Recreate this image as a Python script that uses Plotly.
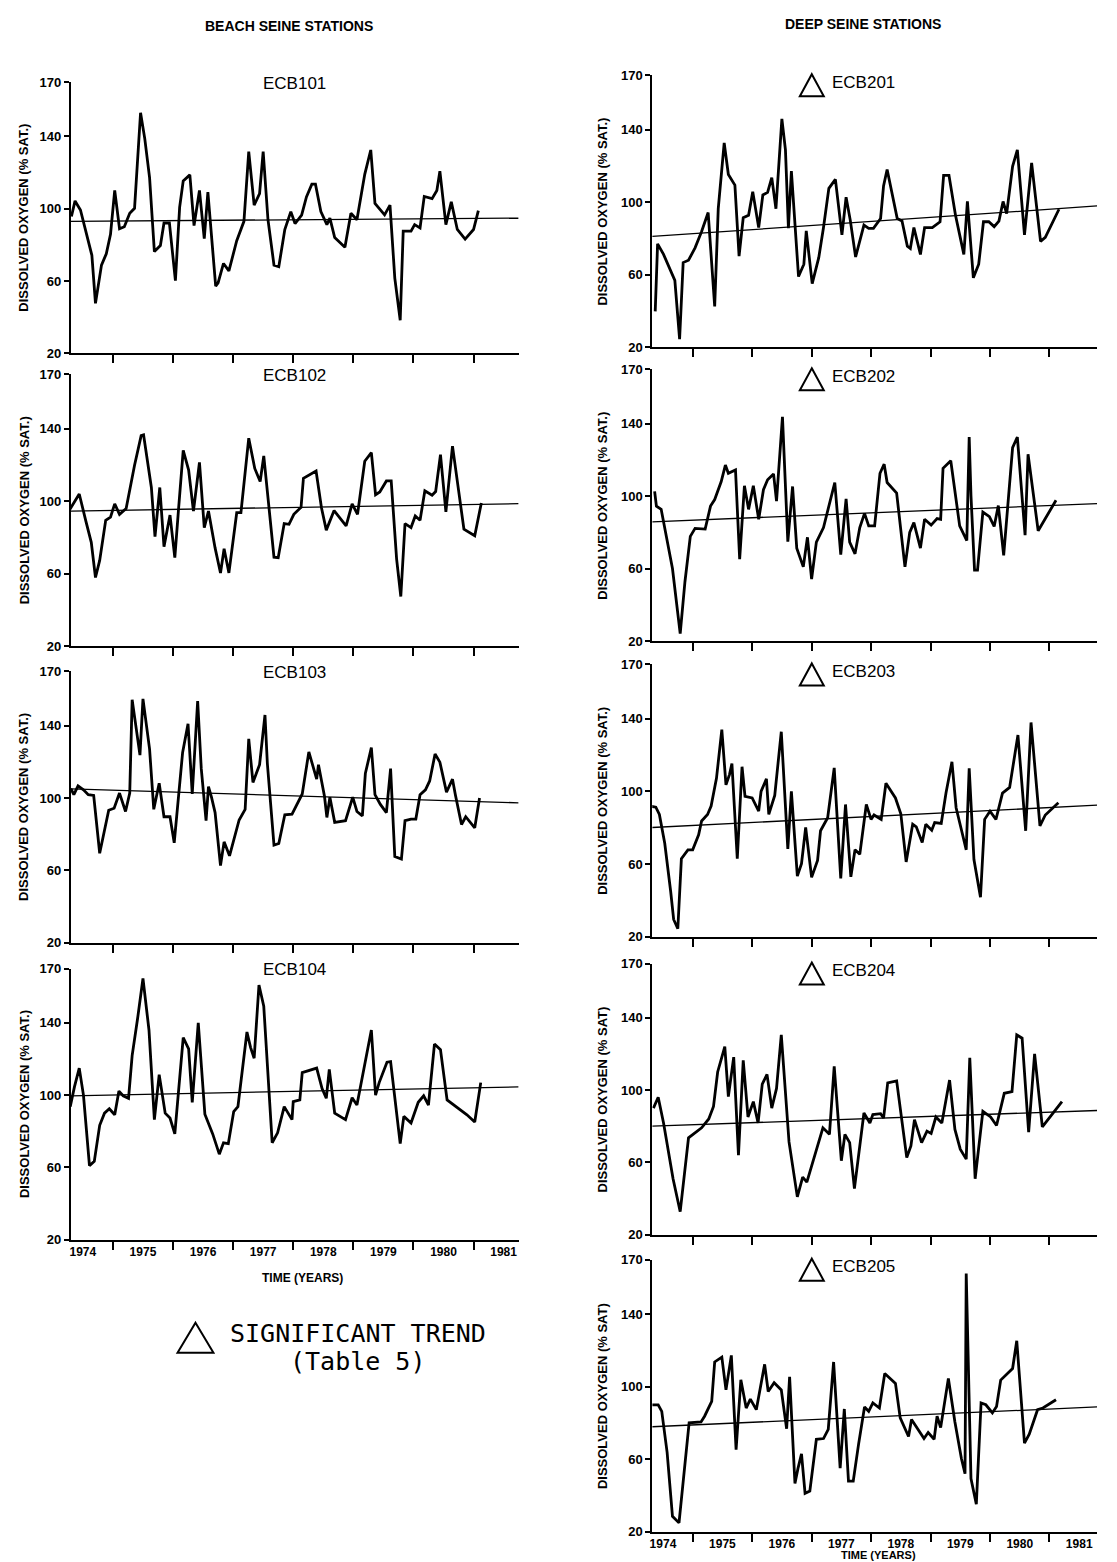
import plotly.graph_objects as go

# the photographed page is offset by the browser's body margin and comes back
# slightly squeezed vertically; these constants undo that so that layout
# positions below can be given in reference-image pixels
WIN_W, WIN_H = 1117, 1562
PAD_X, PAD_Y, SQUEEZE_Y = 8, 16, 0.99
W, H = WIN_W - 2 * PAD_X, WIN_H

# ---- data (decimal year, % saturation) ----
t_101 = [1974.31, 1974.37, 1974.46, 1974.56, 1974.65, 1974.71, 1974.81, 1974.89, 1974.96, 1975.03,
         1975.11, 1975.19, 1975.28, 1975.36, 1975.46, 1975.53, 1975.61, 1975.69, 1975.79, 1975.85,
         1975.94, 1976.04, 1976.11, 1976.17, 1976.28, 1976.35, 1976.44, 1976.52, 1976.58, 1976.71,
         1976.75, 1976.84, 1976.93, 1977.06, 1977.18, 1977.26, 1977.35, 1977.44, 1977.50, 1977.58,
         1977.68, 1977.76, 1977.86, 1977.96, 1978.03, 1978.14, 1978.22, 1978.31, 1978.37, 1978.46,
         1978.56, 1978.61, 1978.69, 1978.86, 1978.96, 1979.06, 1979.19, 1979.29, 1979.36, 1979.52,
         1979.61, 1979.69, 1979.78, 1979.83, 1979.96, 1980.02, 1980.11, 1980.18, 1980.31, 1980.39,
         1980.44, 1980.54, 1980.63, 1980.73, 1980.86, 1981.00, 1981.08]
do_101 = [95.7, 104.3, 99.3, 86.7, 74.2, 47.6, 68.8, 75.1, 85.8, 110.1,
          88.9, 90.0, 97.5, 100.2, 153.1, 138.8, 117.2, 76.3, 79.6, 92.1,
          92.1, 60.2, 100.7, 115.4, 118.7, 90.7, 110.1, 83.5, 109.2, 57.1,
          58.9, 69.7, 65.6, 82.3, 93.0, 131.6, 102.0, 108.3, 131.6, 93.9,
          68.8, 67.9, 88.5, 98.4, 91.8, 96.4, 106.5, 113.6, 113.6, 98.4,
          91.2, 94.8, 84.0, 78.7, 97.5, 93.9, 119.0, 132.5, 102.9, 96.6,
          102.0, 61.6, 38.3, 87.6, 87.6, 91.2, 89.4, 106.8, 105.6, 110.1,
          120.8, 91.2, 103.8, 88.5, 83.2, 88.5, 98.9]

t_102 = [1974.25, 1974.44, 1974.55, 1974.64, 1974.71, 1974.78, 1974.88, 1974.96, 1975.03, 1975.11,
         1975.22, 1975.36, 1975.47, 1975.51, 1975.64, 1975.70, 1975.78, 1975.85, 1975.95, 1976.03,
         1976.09, 1976.17, 1976.26, 1976.34, 1976.44, 1976.52, 1976.59, 1976.70, 1976.79, 1976.85,
         1976.93, 1977.06, 1977.13, 1977.26, 1977.36, 1977.45, 1977.51, 1977.68, 1977.75, 1977.85,
         1977.93, 1978.01, 1978.13, 1978.17, 1978.38, 1978.47, 1978.55, 1978.68, 1978.88, 1978.98,
         1979.07, 1979.19, 1979.30, 1979.37, 1979.44, 1979.55, 1979.63, 1979.72, 1979.79, 1979.86,
         1979.96, 1980.03, 1980.11, 1980.19, 1980.31, 1980.37, 1980.45, 1980.54, 1980.65, 1980.84,
         1981.02, 1981.13]
do_102 = [93.7, 104.0, 89.1, 77.4, 58.0, 67.4, 89.5, 91.3, 98.6, 92.8,
          96.0, 119.9, 136.2, 136.6, 107.6, 80.5, 107.6, 75.0, 92.4, 68.9,
          94.9, 128.1, 117.2, 94.6, 121.4, 85.5, 94.6, 74.3, 60.5, 73.8,
          60.5, 93.7, 93.7, 134.8, 118.1, 110.9, 125.0, 69.2, 68.9, 87.7,
          87.3, 92.8, 96.7, 112.7, 116.7, 96.4, 84.1, 94.9, 86.4, 98.6,
          92.8, 122.1, 126.8, 103.6, 105.1, 111.2, 111.2, 68.3, 47.5, 87.7,
          85.5, 91.9, 89.5, 105.8, 103.3, 105.4, 125.7, 94.2, 130.4, 84.6,
          81.0, 99.1]

t_103 = [1974.24, 1974.31, 1974.35, 1974.42, 1974.51, 1974.59, 1974.68, 1974.78, 1974.93, 1975.02,
         1975.11, 1975.21, 1975.28, 1975.32, 1975.36, 1975.45, 1975.50, 1975.61, 1975.68, 1975.77,
         1975.85, 1975.95, 1976.02, 1976.08, 1976.16, 1976.25, 1976.32, 1976.41, 1976.47, 1976.55,
         1976.59, 1976.64, 1976.70, 1976.79, 1976.85, 1976.94, 1977.03, 1977.10, 1977.20, 1977.26,
         1977.33, 1977.44, 1977.53, 1977.57, 1977.68, 1977.76, 1977.86, 1977.98, 1978.15, 1978.26,
         1978.39, 1978.42, 1978.52, 1978.56, 1978.61, 1978.69, 1978.87, 1978.99, 1979.06, 1979.15,
         1979.20, 1979.30, 1979.36, 1979.45, 1979.55, 1979.62, 1979.69, 1979.80, 1979.86, 1979.96,
         1980.04, 1980.11, 1980.20, 1980.27, 1980.36, 1980.44, 1980.55, 1980.65, 1980.70, 1980.80,
         1980.87, 1981.02, 1981.10]
do_103 = [105.0, 104.5, 101.8, 106.7, 104.5, 101.8, 101.4, 69.4, 93.2, 94.3,
          102.7, 92.5, 102.7, 154.3, 145.0, 123.7, 154.8, 127.0, 93.7, 108.1,
          89.6, 89.6, 75.2, 95.5, 125.2, 141.0, 102.2, 153.6, 116.2, 87.4,
          106.3, 100.4, 91.9, 62.6, 75.7, 68.0, 78.4, 87.8, 93.7, 132.7,
          108.6, 118.4, 145.9, 118.9, 73.9, 74.8, 90.7, 91.0, 102.2, 125.5,
          110.4, 118.4, 100.9, 89.2, 100.4, 86.5, 87.4, 100.4, 92.5, 90.1,
          113.5, 127.9, 101.8, 96.4, 91.9, 116.2, 67.6, 66.2, 87.4, 88.3,
          88.3, 101.8, 104.5, 109.4, 124.3, 119.8, 103.2, 110.4, 101.4, 85.3,
          89.6, 83.5, 100.0]

t_104 = [1974.29, 1974.36, 1974.44, 1974.51, 1974.61, 1974.69, 1974.78, 1974.86, 1974.94, 1975.03,
         1975.10, 1975.17, 1975.26, 1975.32, 1975.41, 1975.50, 1975.60, 1975.69, 1975.77, 1975.87,
         1975.95, 1976.03, 1976.17, 1976.26, 1976.32, 1976.42, 1976.53, 1976.66, 1976.77, 1976.84,
         1976.92, 1977.01, 1977.08, 1977.23, 1977.29, 1977.35, 1977.43, 1977.51, 1977.65, 1977.74,
         1977.85, 1977.98, 1978.00, 1978.11, 1978.15, 1978.39, 1978.48, 1978.55, 1978.60, 1978.69,
         1978.87, 1978.98, 1979.06, 1979.16, 1979.30, 1979.37, 1979.43, 1979.56, 1979.62, 1979.78,
         1979.84, 1979.96, 1980.08, 1980.17, 1980.25, 1980.35, 1980.45, 1980.56, 1980.89, 1981.02,
         1981.12]
do_104 = [93.6, 104.5, 114.9, 100.0, 60.9, 63.3, 83.3, 90.0, 92.4, 89.1,
          102.2, 99.6, 98.2, 121.8, 142.2, 164.5, 136.0, 86.4, 111.3, 90.0,
          87.3, 78.5, 131.8, 125.5, 96.0, 140.0, 89.4, 78.5, 67.3, 73.6,
          73.1, 90.9, 93.6, 134.9, 126.4, 120.4, 160.9, 149.1, 73.6, 79.1,
          93.6, 86.4, 96.4, 97.3, 112.4, 114.9, 103.6, 98.2, 114.2, 90.0,
          86.4, 98.5, 94.5, 112.7, 136.0, 100.0, 106.9, 118.2, 118.5, 73.1,
          88.2, 84.5, 96.0, 99.6, 94.5, 128.2, 125.1, 97.3, 89.1, 85.1,
          106.9]

t_201 = [1974.37, 1974.41, 1974.51, 1974.70, 1974.78, 1974.84, 1974.93, 1975.04, 1975.15, 1975.26,
         1975.37, 1975.43, 1975.53, 1975.60, 1975.71, 1975.78, 1975.85, 1975.94, 1976.01, 1976.11,
         1976.18, 1976.26, 1976.33, 1976.40, 1976.50, 1976.56, 1976.61, 1976.66, 1976.78, 1976.87,
         1976.91, 1977.01, 1977.12, 1977.20, 1977.29, 1977.40, 1977.51, 1977.58, 1977.65, 1977.74,
         1977.88, 1977.96, 1978.04, 1978.16, 1978.21, 1978.27, 1978.44, 1978.52, 1978.61, 1978.66,
         1978.72, 1978.83, 1978.90, 1979.03, 1979.16, 1979.22, 1979.31, 1979.42, 1979.56, 1979.62,
         1979.72, 1979.81, 1979.89, 1979.98, 1980.07, 1980.15, 1980.22, 1980.28, 1980.38, 1980.46,
         1980.58, 1980.70, 1980.85, 1980.93, 1981.16]
do_201 = [39.8, 77.0, 71.2, 56.9, 24.5, 66.7, 68.0, 74.8, 83.8, 94.3,
          42.5, 96.4, 132.7, 115.3, 109.4, 70.3, 91.4, 92.8, 105.8, 86.0,
          104.0, 105.4, 113.5, 96.4, 145.9, 128.8, 85.6, 117.1, 59.0, 65.8,
          84.2, 55.1, 69.4, 86.0, 107.6, 112.6, 82.0, 102.7, 90.1, 69.8,
          87.4, 85.6, 85.6, 91.0, 109.0, 118.0, 91.0, 89.6, 75.7, 74.5,
          86.0, 71.2, 86.0, 86.0, 89.2, 114.8, 114.8, 92.8, 71.2, 100.4,
          58.3, 65.8, 89.2, 89.2, 86.5, 89.6, 100.4, 93.7, 119.8, 128.8,
          82.0, 121.6, 78.4, 80.6, 96.1]

t_202 = [1974.36, 1974.39, 1974.47, 1974.57, 1974.66, 1974.79, 1974.87, 1974.96, 1975.04, 1975.21,
         1975.30, 1975.37, 1975.48, 1975.55, 1975.60, 1975.72, 1975.79, 1975.87, 1975.94, 1976.02,
         1976.11, 1976.19, 1976.26, 1976.36, 1976.41, 1976.51, 1976.60, 1976.68, 1976.75, 1976.86,
         1976.93, 1977.00, 1977.08, 1977.20, 1977.31, 1977.39, 1977.49, 1977.58, 1977.64, 1977.73,
         1977.81, 1977.89, 1977.96, 1978.06, 1978.15, 1978.22, 1978.27, 1978.43, 1978.57, 1978.65,
         1978.72, 1978.83, 1978.90, 1979.01, 1979.11, 1979.17, 1979.21, 1979.34, 1979.49, 1979.61,
         1979.65, 1979.68, 1979.74, 1979.79, 1979.88, 1979.99, 1980.07, 1980.14, 1980.23, 1980.38,
         1980.46, 1980.59, 1980.64, 1980.81, 1981.11]
do_202 = [102.7, 94.6, 92.8, 74.7, 60.2, 24.3, 52.9, 77.9, 82.3, 81.9,
          94.6, 98.2, 108.1, 117.2, 112.7, 114.5, 65.3, 105.8, 92.8, 105.8,
          87.3, 103.6, 109.1, 112.3, 97.3, 143.8, 75.0, 105.4, 71.4, 61.1,
          77.4, 54.4, 74.7, 82.8, 98.2, 107.6, 67.8, 98.6, 74.7, 68.3,
          82.8, 90.6, 83.7, 83.7, 112.7, 117.7, 107.6, 101.8, 61.1, 80.1,
          85.5, 71.4, 87.3, 84.1, 87.7, 87.3, 115.4, 119.6, 83.7, 75.6,
          132.6, 100.4, 59.3, 59.3, 91.3, 88.8, 83.4, 94.9, 67.4, 126.8,
          132.6, 78.6, 123.2, 81.0, 97.8]

t_203 = [1974.28, 1974.38, 1974.44, 1974.53, 1974.63, 1974.68, 1974.75, 1974.81, 1974.92, 1975.00,
         1975.10, 1975.15, 1975.25, 1975.31, 1975.40, 1975.49, 1975.56, 1975.62, 1975.66, 1975.75,
         1975.83, 1975.88, 1976.00, 1976.11, 1976.15, 1976.24, 1976.28, 1976.38, 1976.49, 1976.60,
         1976.66, 1976.76, 1976.83, 1976.90, 1977.00, 1977.10, 1977.15, 1977.27, 1977.38, 1977.49,
         1977.57, 1977.66, 1977.73, 1977.81, 1977.92, 1978.00, 1978.05, 1978.17, 1978.25, 1978.41,
         1978.50, 1978.59, 1978.70, 1978.76, 1978.86, 1978.92, 1979.02, 1979.07, 1979.18, 1979.26,
         1979.36, 1979.43, 1979.51, 1979.60, 1979.65, 1979.73, 1979.84, 1979.91, 1980.00, 1980.10,
         1980.21, 1980.33, 1980.47, 1980.60, 1980.69, 1980.84, 1980.93, 1981.15]
do_203 = [91.9, 91.3, 87.3, 71.4, 44.8, 29.4, 24.3, 62.9, 67.8, 67.8,
          76.1, 83.7, 87.3, 91.9, 107.2, 134.0, 103.6, 109.4, 115.4, 62.9,
          113.6, 97.3, 96.4, 89.1, 100.0, 106.9, 87.3, 97.8, 132.9, 68.3,
          100.0, 53.3, 60.2, 80.1, 52.6, 62.0, 78.3, 85.5, 113.0, 52.0,
          92.8, 52.9, 67.8, 65.3, 92.8, 84.6, 87.0, 84.6, 104.5, 96.4,
          87.7, 61.1, 81.9, 80.5, 71.9, 81.9, 78.6, 82.8, 82.3, 99.1,
          116.3, 91.0, 80.1, 67.8, 112.7, 62.4, 41.7, 84.6, 89.1, 84.6,
          99.1, 102.2, 131.1, 78.3, 138.0, 81.0, 87.0, 93.7]

t_204 = [1974.34, 1974.42, 1974.51, 1974.67, 1974.79, 1974.93, 1975.15, 1975.27, 1975.35, 1975.42,
         1975.54, 1975.60, 1975.69, 1975.77, 1975.85, 1975.93, 1976.02, 1976.10, 1976.17, 1976.25,
         1976.33, 1976.41, 1976.49, 1976.62, 1976.76, 1976.85, 1976.92, 1977.19, 1977.30, 1977.38,
         1977.50, 1977.56, 1977.64, 1977.72, 1977.88, 1977.98, 1978.03, 1978.16, 1978.21, 1978.28,
         1978.43, 1978.60, 1978.67, 1978.73, 1978.85, 1978.94, 1979.01, 1979.09, 1979.19, 1979.32,
         1979.41, 1979.50, 1979.60, 1979.66, 1979.75, 1979.88, 1980.01, 1980.11, 1980.24, 1980.37,
         1980.45, 1980.54, 1980.65, 1980.75, 1980.88, 1981.21]
do_204 = [90.0, 96.0, 81.8, 50.9, 32.7, 73.6, 79.1, 84.0, 90.9, 110.0,
          124.0, 96.4, 118.2, 64.0, 116.4, 85.1, 93.6, 81.8, 103.3, 108.7,
          90.0, 100.9, 130.5, 71.3, 40.9, 51.8, 49.1, 79.1, 75.5, 113.1,
          60.9, 75.5, 70.9, 45.5, 87.3, 81.8, 86.4, 86.9, 84.5, 104.0,
          105.1, 62.7, 69.1, 83.6, 70.9, 77.3, 76.0, 85.1, 81.8, 105.5,
          78.2, 67.3, 61.8, 117.8, 50.9, 88.2, 85.1, 80.4, 98.2, 99.1,
          130.5, 128.7, 76.7, 120.0, 79.6, 93.6]

t_205 = [1974.32, 1974.42, 1974.48, 1974.57, 1974.66, 1974.77, 1974.94, 1975.14, 1975.20, 1975.32,
         1975.37, 1975.49, 1975.56, 1975.65, 1975.73, 1975.81, 1975.90, 1975.97, 1976.07, 1976.21,
         1976.27, 1976.37, 1976.49, 1976.58, 1976.63, 1976.72, 1976.77, 1976.83, 1976.89, 1976.97,
         1977.08, 1977.20, 1977.28, 1977.37, 1977.48, 1977.55, 1977.62, 1977.70, 1977.79, 1977.89,
         1977.96, 1978.03, 1978.14, 1978.23, 1978.41, 1978.49, 1978.63, 1978.68, 1978.89, 1978.96,
         1979.06, 1979.11, 1979.17, 1979.30, 1979.41, 1979.52, 1979.58, 1979.60, 1979.68, 1979.77,
         1979.85, 1979.93, 1980.04, 1980.11, 1980.18, 1980.38, 1980.45, 1980.58, 1980.66, 1980.80,
         1980.89, 1981.11]
do_205 = [90.0, 90.0, 86.4, 63.8, 28.5, 24.9, 80.1, 80.5, 83.7, 91.9,
          113.6, 116.3, 98.2, 117.2, 65.3, 103.8, 88.2, 93.1, 87.3, 112.3,
          97.3, 102.2, 98.2, 76.8, 105.4, 46.6, 54.8, 62.9, 41.2, 42.4,
          71.0, 71.4, 76.5, 113.6, 55.1, 87.7, 47.9, 47.9, 68.3, 88.8,
          86.4, 91.0, 88.2, 107.2, 101.8, 82.8, 72.5, 81.9, 71.4, 74.7,
          71.0, 83.7, 77.4, 104.5, 80.5, 60.2, 52.0, 162.4, 49.3, 35.2,
          91.0, 90.0, 85.5, 89.1, 103.6, 110.0, 125.3, 68.9, 73.8, 87.3,
          88.2, 92.8]

# fitted trend lines: value at start and end of the axis
trend_x_beach = [1974.30, 1981.75]
trend_x_deep = [1974.32, 1981.80]
trend_101 = [93.0, 94.8]
trend_102 = [94.6, 98.7]
trend_103 = [105.0, 97.3]
trend_104 = [99.6, 104.5]
trend_201 = [81.1, 97.9]
trend_202 = [85.9, 96.0]
trend_203 = [80.1, 92.4]
trend_204 = [80.0, 88.7]
trend_205 = [77.9, 88.8]

years = [1974, 1975, 1976, 1977, 1978, 1979, 1980, 1981]
year_bounds = [1975, 1976, 1977, 1978, 1979, 1980, 1981]
y_ticks = [20, 60, 100, 140, 170]


def px(x):
    return (x - PAD_X) / W


def py(y):
    return 1 - (y / SQUEEZE_Y - PAD_Y) / H


BOLD = dict(family="Liberation Sans", color="black", weight="bold")

# name, t, do, trend, trend x, (x left, x right) px, (y bottom, y top) px, bottom row, significant, y title
panels = [
    ("ECB101", t_101, do_101, trend_101, trend_x_beach, (68, 517), (354, 83), False, False, "DISSOLVED OXYGEN (% SAT.)"),
    ("ECB102", t_102, do_102, trend_102, trend_x_beach, (68, 517), (647, 375), False, False, "DISSOLVED OXYGEN (% SAT.)"),
    ("ECB103", t_103, do_103, trend_103, trend_x_beach, (68, 517), (943, 672), False, False, "DISSOLVED OXYGEN (% SAT.)"),
    ("ECB104", t_104, do_104, trend_104, trend_x_beach, (68, 517), (1240, 969), True, False, "DISSOLVED OXYGEN (% SAT.)"),
    ("ECB201", t_201, do_201, trend_201, trend_x_deep, (651, 1097), (348, 76), False, True, "DISSOLVED OXYGEN (% SAT.)"),
    ("ECB202", t_202, do_202, trend_202, trend_x_deep, (651, 1097), (642, 370), False, True, "DISSOLVED OXYGEN (% SAT.)"),
    ("ECB203", t_203, do_203, trend_203, trend_x_deep, (651, 1097), (937, 665), False, True, "DISSOLVED OXYGEN (% SAT.)"),
    ("ECB204", t_204, do_204, trend_204, trend_x_deep, (651, 1097), (1235, 964), False, True, "DISSOLVED OXYGEN (% SAT)"),
    ("ECB205", t_205, do_205, trend_205, trend_x_deep, (651, 1097), (1532, 1260), True, True, "DISSOLVED OXYGEN (% SAT)"),
]

fig = go.Figure()
layout = {}
annotations = []
shapes = []


def note(text, x, y, font, xanchor="center", angle=0):
    return dict(text=text, x=px(x), y=py(y), xref="paper", yref="paper",
                xanchor=xanchor, yanchor="middle", textangle=angle,
                showarrow=False, font=font)


def triangle(cx, top, w, h):
    return dict(type="path", xref="paper", yref="paper",
                path=f"M {px(cx)},{py(top)} L {px(cx + w / 2)},{py(top + h)} "
                     f"L {px(cx - w / 2)},{py(top + h)} Z",
                line=dict(color="black", width=2), fillcolor="rgba(0,0,0,0)")


TITLE_FONT = dict(family="Liberation Sans", size=17, color="black")

for i, (name, t, do, trend, tx, xp, yp, bottom, sig, ytitle) in enumerate(panels, start=1):
    assert len(t) == len(do), name
    s = "" if i == 1 else str(i)
    fig.add_trace(go.Scatter(x=t, y=do, mode="lines", xaxis="x" + s, yaxis="y" + s,
                             line=dict(color="black", width=2.8), showlegend=False))
    fig.add_trace(go.Scatter(x=tx, y=trend, mode="lines", xaxis="x" + s, yaxis="y" + s,
                             line=dict(color="black", width=1.3), showlegend=False))
    layout["xaxis" + s] = dict(
        domain=[px(xp[0]), px(xp[1])], range=tx, anchor="y" + s,
        showline=True, linecolor="black", linewidth=2, showgrid=False, zeroline=False,
        ticks="", tickmode="array", tickvals=[y + 0.5 for y in years],
        ticktext=[str(y) for y in years], showticklabels=bottom,
        tickfont=dict(BOLD, size=12),
        minor=dict(tickmode="array", tickvals=year_bounds, ticks="outside", ticklen=8,
                   tickwidth=2, tickcolor="black", showgrid=False))
    layout["yaxis" + s] = dict(
        domain=[py(yp[0]), py(yp[1])], range=[20, 170], anchor="x" + s,
        showline=True, linecolor="black", linewidth=2, showgrid=False, zeroline=False,
        ticks="outside", ticklen=5, tickwidth=2, tickcolor="black",
        tickmode="array", tickvals=y_ticks, tickfont=dict(BOLD, size=13))

    ymid = (yp[0] + yp[1]) / 2
    title_x = 21 if xp[0] < 300 else 601
    annotations.append(note(ytitle, title_x, ymid, dict(BOLD, size=13), angle=-90))
    if sig:
        annotations.append(note(name, 829, yp[1] + 7, TITLE_FONT, xanchor="left"))
        shapes.append(triangle(811, yp[1] - 1, 24, 22))
    else:
        annotations.append(note(name, 292, yp[1] + 1, TITLE_FONT))

# column headings, time axis titles and the key
MONO = dict(family="DejaVu Sans Mono", size=25, color="black")
annotations += [
    note("BEACH SEINE STATIONS", 287, 27, dict(BOLD, size=14)),
    note("DEEP SEINE STATIONS", 862, 25, dict(BOLD, size=14)),
    note("TIME (YEARS)", 300, 1278, dict(BOLD, size=12)),
    note("TIME (YEARS)", 878, 1555, dict(BOLD, size=11)),
    note("SIGNIFICANT TREND", 356, 1334, MONO),
    note("(Table 5)", 355, 1362, MONO),
]
shapes.append(triangle(193, 1323, 36, 30))

fig.update_layout(
    width=W, height=H, margin=dict(l=0, r=0, t=0, b=0),
    paper_bgcolor="white", plot_bgcolor="white",
    annotations=annotations, shapes=shapes, showlegend=False,
    **layout)

fig.write_html("out.html")
